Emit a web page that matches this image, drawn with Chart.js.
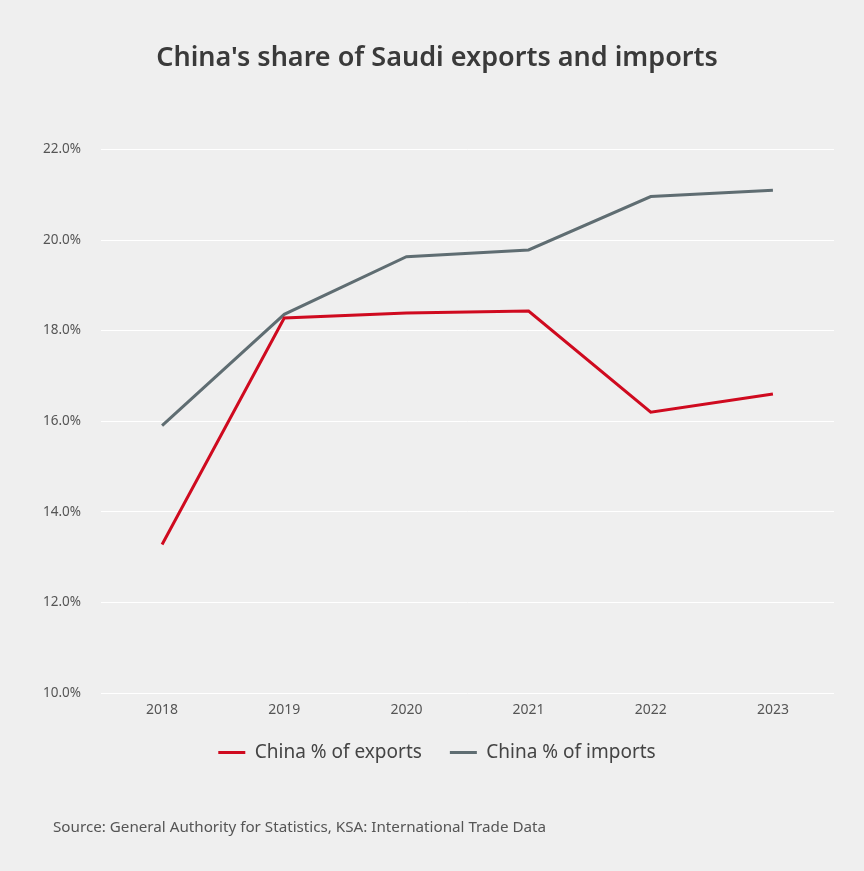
<!DOCTYPE html>
<html>
<head>
<meta charset="utf-8">
<script src="https://cdn.jsdelivr.net/npm/chart.js@4.4.1/dist/chart.umd.min.js"></script>
<style>
  html, body { margin: 0; padding: 0; background: #efefef; }
  #wrap { position: relative; width: 864px; height: 871px; }
  #source {
    position: absolute; left: 53px; top: 816px;
    font-family: 'Noto Sans', sans-serif; font-size: 15.2px; color: #555;
  }
</style>
</head>
<body>
<div id="wrap">
  <canvas id="chart" width="864" height="871"></canvas>
  <div id="source">Source: General Authority for Statistics, KSA: International Trade Data</div>
</div>
<script>
// values
const years = ['2018', '2019', '2020', '2021', '2022', '2023'];
const exportsShare = [13.28, 18.28, 18.39, 18.43, 16.2, 16.6];
const importsShare = [15.9, 18.36, 19.63, 19.78, 20.96, 21.1];
const yTicks = [10, 12, 14, 16, 18, 20, 22];

const FONT = "'Noto Sans', sans-serif";
const RED = '#cf0a1f';
const GREY = '#5f6d72';

document.addEventListener('DOMContentLoaded', () => {
    const ctx = document.getElementById('chart');

    new Chart(ctx, {
        type: 'line',
        data: {
            labels: years,
            datasets: [
                {
                    label: 'China % of exports',
                    data: exportsShare,
                    borderColor: RED,
                    backgroundColor: RED,
                    borderWidth: 3,
                    pointRadius: 0,
                    tension: 0
                },
                {
                    label: 'China % of imports',
                    data: importsShare,
                    borderColor: GREY,
                    backgroundColor: GREY,
                    borderWidth: 3,
                    pointRadius: 0,
                    tension: 0
                }
            ]
        },
        options: {
            responsive: false,
            devicePixelRatio: 1,
            animation: false,
            layout: { padding: { left: 40, right: 30, top: 0, bottom: 99 } },
            plugins: {
                title: {
                    display: true,
                    text: "China's share of Saudi exports and imports",
                    color: '#3a3a3a',
                    font: { family: FONT, size: 27, weight: '600' },
                    padding: { top: 42, bottom: 75 }
                },
                legend: {
                    position: 'bottom',
                    labels: {
                        color: '#444',
                        font: { family: FONT, size: 19 },
                        boxWidth: 27,
                        boxHeight: 3,
                        padding: 28,
                        generateLabels: (chart) => {
                            const items = Chart.defaults.plugins.legend.labels.generateLabels(chart);
                            items.forEach(it => { it.lineWidth = 0; });
                            return items;
                        }
                    }
                },
                tooltip: { enabled: false }
            },
            scales: {
                x: {
                    offset: true,
                    grid: { display: false },
                    border: { display: false },
                    ticks: { color: '#555', font: { family: FONT, size: 14 }, padding: 1 },
                    afterFit: (scale) => { scale.height = 22; }
                },
                y: {
                    min: 10,
                    max: 22,
                    afterBuildTicks: (scale) => { scale.ticks = yTicks.map(v => ({ value: v })); },
                    grid: { color: '#ffffff', lineWidth: 1, drawTicks: false },
                    border: { display: false },
                    ticks: {
                        color: '#555',
                        font: { family: FONT, size: 13.5 },
                        padding: 20,
                        callback: (v) => v.toFixed(1) + '%'
                    },
                    afterFit: (scale) => { scale.width = 61; }
                }
            }
        }
    });
});
</script>
</body>
</html>
